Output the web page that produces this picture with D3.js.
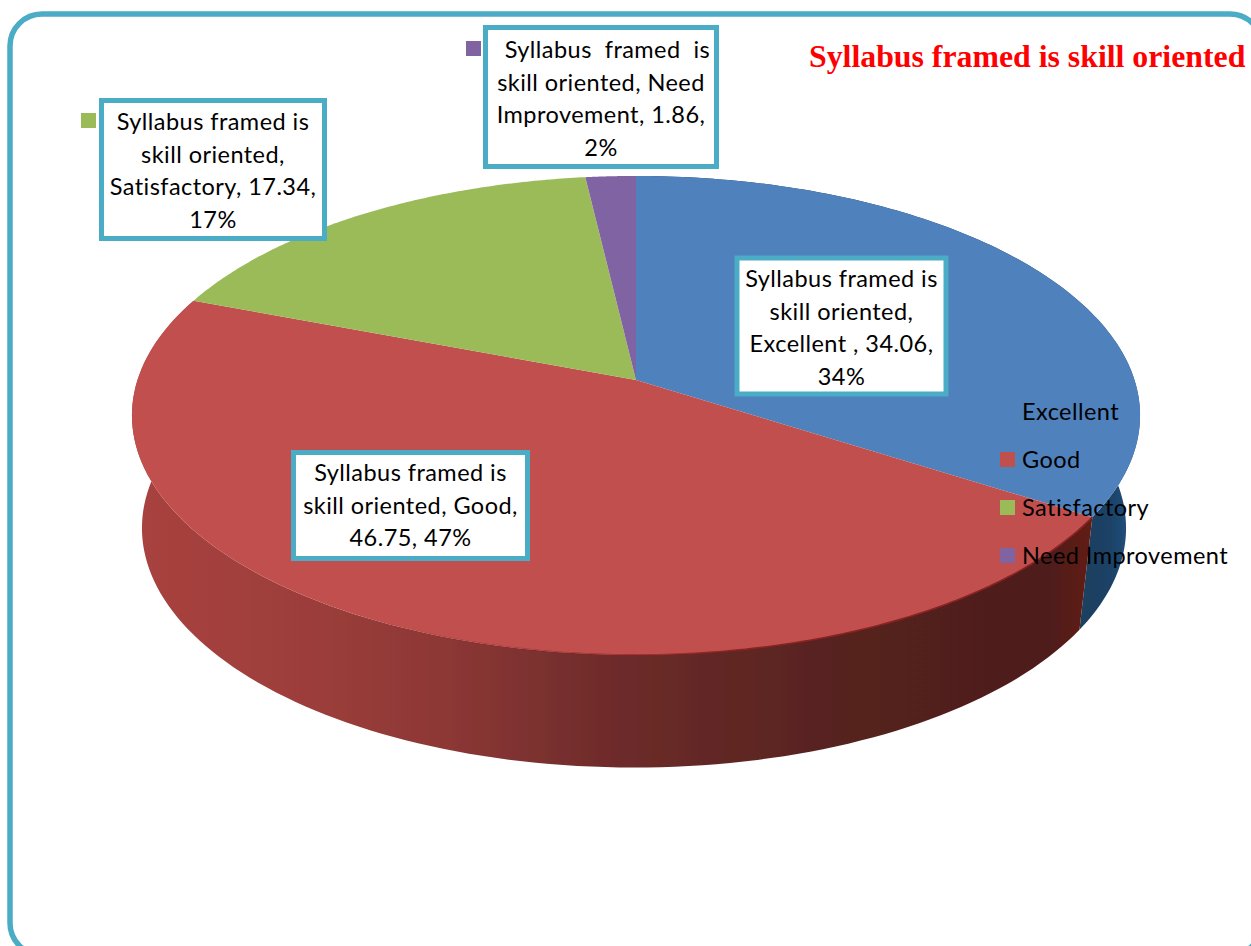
<!DOCTYPE html>
<html><head><meta charset="utf-8">
<script src="https://cdn.jsdelivr.net/npm/d3@7"></script>
<style>html,body{margin:0;padding:0;background:#fff;overflow:hidden}svg{display:block}</style>
</head><body><svg id="c" width="1251" height="946"></svg>
<script>
const categories = ["Excellent ", "Good", "Satisfactory", "Need Improvement"];
const values = [34.06, 46.75, 17.34, 1.86];
const colors = ["#4F81BD", "#C0504D", "#9BBB59", "#8064A2"];
const legendLabels = ["Excellent", "Good", "Satisfactory", "Need Improvement"];
const titleText = "Syllabus framed is skill oriented";
const labelLines = [
  ["Syllabus framed is", "skill oriented,", "Excellent , 34.06,", "34%"],
  ["Syllabus framed is", "skill oriented, Good,", "46.75, 47%"],
  ["Syllabus framed is", "skill oriented,", "Satisfactory, 17.34,", "17%"],
  ["\u00a0\u00a0Syllabus\u00a0\u00a0framed\u00a0\u00a0is", "skill oriented, Need", "Improvement, 1.86,", "2%"]
];
const redWallStops = [[140,"#a8423f"],[300,"#9d3e3b"],[450,"#8c3735"],[600,"#702c2b"],[750,"#5e2623"],[900,"#52201d"],[1050,"#4f1e1b"],[1090,"#611f16"]];
const blueWallStops = [[1080,"#1c3f5e"],[1110,"#1d4266"],[1140,"#24568a"]];

const svg = d3.select("#c");
const defs = svg.append("defs");
function grad(id, stops){
  const x0 = stops[0][0], x1 = stops[stops.length-1][0];
  const g = defs.append("linearGradient").attr("id", id).attr("gradientUnits","userSpaceOnUse")
    .attr("x1",x0).attr("x2",x1).attr("y1",0).attr("y2",0);
  stops.forEach(s => g.append("stop").attr("offset",(s[0]-x0)/(x1-x0)).attr("stop-color",s[1]));
}
grad("wallRed", redWallStops); grad("wallBlue", blueWallStops);
const rimG = defs.append("linearGradient").attr("id","rim").attr("gradientUnits","userSpaceOnUse")
  .attr("x1",350).attr("x2",750).attr("y1",0).attr("y2",0);
rimG.append("stop").attr("offset",0).attr("stop-color","#8a2020").attr("stop-opacity",0);
rimG.append("stop").attr("offset",1).attr("stop-color","#8a2020").attr("stop-opacity",1);
defs.append("filter").attr("id","soft").append("feGaussianBlur").attr("stdDeviation",0.6);

// frame
svg.append("rect").attr("x",10).attr("y",14).attr("width",1252).attr("height",941).attr("rx",32)
  .attr("fill","#fff").attr("stroke","#4BACC6").attr("stroke-width",5.5);

// perspective disc: unit circle -> screen
const K=-0.148, B=178, CY=380, CX=636, A=498.5;
const topPt = a => { const x=Math.sin(a), y=-Math.cos(a), d=1+K*y; return [CX+A*x/d,(CY+B*y)/d]; };
const basePt = a => { const p=topPt(a); return [634+(p[0]-CX)*492/504, 528+(p[1]-415.4)]; };
const line = d3.line();
const pie = d3.pie().sort(null).startAngle(0).endAngle(2*Math.PI);
const arcs = pie(values);
const pieG = svg.append("g").attr("filter","url(#soft)");
const samples = (a0,a1) => d3.range(0,121).map(i=>a0+(a1-a0)*i/120);

// side wall for the slices that face the viewer
[[0,"url(#wallBlue)"],[1,"url(#wallRed)"]].forEach(([i,fill])=>{
  const s = samples(arcs[i].startAngle, arcs[i].endAngle);
  pieG.append("path").attr("d", line(s.map(topPt).concat(s.slice().reverse().map(basePt)))+"Z").attr("fill",fill);
});
// top face
pieG.selectAll("path.top").data(arcs).join("path").attr("class","top")
  .attr("d", d => line([[CX,CY]].concat(samples(d.startAngle,d.endAngle).map(topPt)))+"Z")
  .attr("fill",(d,i)=>colors[i]);
// dark rim line along the near edge of the red slice, fading out to the left
pieG.append("path").attr("fill","none").attr("stroke","url(#rim)").attr("stroke-width",1.6)
  .attr("d", line(samples(arcs[1].startAngle, arcs[1].startAngle+1.5).map(topPt)));

// title
svg.append("text").attr("x",809).attr("y",67).attr("font-family","'Liberation Serif'").attr("font-weight","bold")
  .attr("font-size",31.8).attr("fill","#FF0000").text(titleText);

const FONT="Lato", FS=23.5, LS=0.45;
// boxes
const boxes=[{x:737,y:258,w:209,h:136,fy:287},{x:293.5,y:452.5,w:234,h:106,fy:481},{x:101.5,y:100.5,w:223,h:138,fy:130},{x:485.5,y:27.5,w:231,h:139,fy:58}];
const lh=32.5;
boxes.forEach((b,i)=>{
  svg.append("rect").attr("x",b.x).attr("y",b.y).attr("width",b.w).attr("height",b.h)
    .attr("fill","#fff").attr("stroke","#4BACC6").attr("stroke-width",5);
  svg.append("text").attr("font-family",FONT).attr("font-size",FS).attr("letter-spacing",LS).attr("fill","#000").attr("text-anchor","middle")
    .selectAll("tspan").data(labelLines[i]).join("tspan")
    .attr("x",b.x+b.w/2).attr("y",(d,j)=>b.fy+j*lh).text(d=>d);
});
// detached markers of the two outer labels
svg.append("rect").attr("x",81).attr("y",113).attr("width",15).attr("height",15).attr("fill",colors[2]);
svg.append("rect").attr("x",466).attr("y",41).attr("width",15).attr("height",15).attr("fill",colors[3]);

// legend
const ly=d3.scalePoint().domain(legendLabels).range([404,548]);
const lg=svg.append("g").selectAll("g").data(legendLabels).join("g");
lg.append("rect").attr("x",1000).attr("y",d=>ly(d)).attr("width",15).attr("height",15).attr("fill",(d,i)=>colors[i]);
lg.append("text").attr("x",1022).attr("y",d=>ly(d)+16).attr("font-family",FONT).attr("font-size",FS).attr("letter-spacing",LS).attr("fill","#000").text(d=>d);
</script></body></html>
